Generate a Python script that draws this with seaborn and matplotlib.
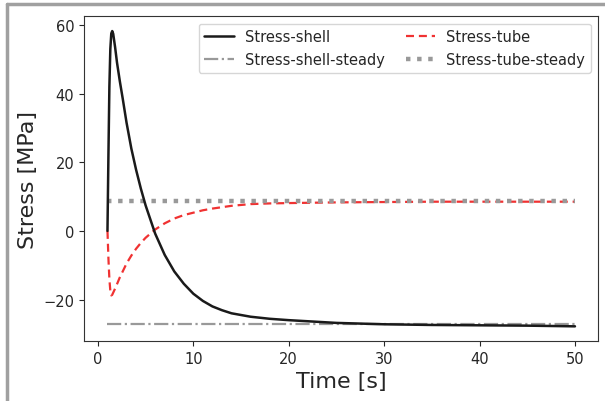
import numpy as np
import pandas as pd
import seaborn as sns
import matplotlib.pyplot as plt
from matplotlib.lines import Line2D

# time points [s]
time = [1.0, 1.1, 1.2, 1.3, 1.4, 1.5, 1.6, 1.8, 2.0, 2.3, 2.6, 3.0, 3.5,
        4.0, 4.5, 5.0, 6.0, 7.0, 8.0, 9.0, 10.0, 11.0, 12.0, 13.0, 14.0,
        16.0, 18.0, 20.0, 25.0, 30.0, 35.0, 40.0, 45.0, 50.0]

# stress in the shell [MPa]
stress_shell = [0.0, 22.0, 42.0, 53.0, 57.5, 58.2, 57.4, 53.5, 49.0, 43.5,
                38.5, 31.5, 24.0, 17.8, 12.3, 7.4, -0.8, -7.0, -11.8, -15.4,
                -18.3, -20.4, -22.0, -23.1, -24.0, -25.0, -25.6, -26.0,
                -26.8, -27.2, -27.4, -27.5, -27.6, -27.8]

# stress in the tube [MPa]
stress_tube = [0.0, -8.0, -14.0, -17.5, -18.8, -18.6, -18.0, -16.8, -15.5,
               -13.5, -11.8, -9.5, -7.2, -5.2, -3.5, -2.0, 0.4, 2.2, 3.6,
               4.6, 5.3, 6.0, 6.5, 6.9, 7.3, 7.8, 8.0, 8.1, 8.3, 8.4, 8.5,
               8.5, 8.5, 8.5]

shell_steady = -27.2
tube_steady = 8.7

df = pd.DataFrame({'time': time,
                   'shell': stress_shell,
                   'tube': stress_tube})
df['shell_steady'] = shell_steady
df['tube_steady'] = tube_steady

sns.set_style('ticks')
plt.rcParams['font.family'] = ['DejaVu Sans']

fig = plt.figure(figsize=(6.05, 4.02), dpi=100)
ax = fig.add_axes([0.139, 0.149, 0.85, 0.808])

# legend fills column-wise, so draw shell lines first, then tube lines
sns.lineplot(data=df, x='time', y='shell', ax=ax, color='#1a1a1a',
             linewidth=1.8, label='Stress-shell', zorder=3)
sns.lineplot(data=df, x='time', y='shell_steady', ax=ax, color='#999999',
             linewidth=1.6, linestyle='-.', label='Stress-shell-steady')
sns.lineplot(data=df, x='time', y='tube', ax=ax, color='#f03232',
             linewidth=1.6, linestyle=(0, (3.6, 2.2)), label='Stress-tube')
sns.lineplot(data=df, x='time', y='tube_steady', ax=ax, color='#999999',
             linewidth=3.2, linestyle=(0, (1, 1.5)), label='Stress-tube-steady')

ax.set_xlabel('Time [s]', fontsize=16)
ax.set_ylabel('Stress [MPa]', fontsize=16)
ax.set_xticks([0, 10, 20, 30, 40, 50])
ax.set_yticks([-20, 0, 20, 40, 60])
ax.tick_params(labelsize=10.5)
for s in ax.spines.values():
    s.set_color('#333333')

ax.legend(ncol=2, loc='upper right', fontsize=10.5, frameon=True,
          columnspacing=1.4)

# grey frame on left and top of the figure
fig.add_artist(Line2D([0.012, 0.012], [0, 0.987], transform=fig.transFigure,
                      color='#a0a0a0', linewidth=2.5))
fig.add_artist(Line2D([0.012, 1.0], [0.987, 0.987], transform=fig.transFigure,
                      color='#a0a0a0', linewidth=2.5))

fig.savefig('out.png', dpi=100)
